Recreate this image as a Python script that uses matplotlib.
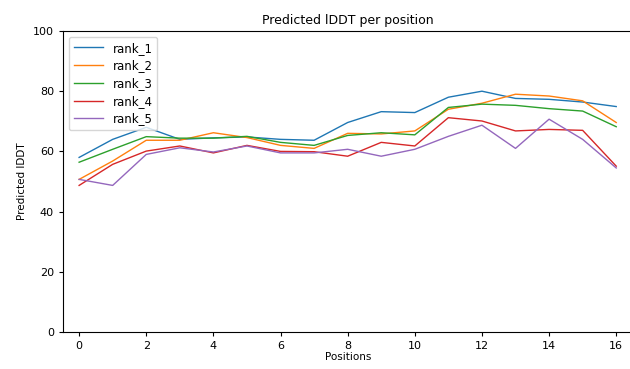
import matplotlib
matplotlib.use("Agg")
import matplotlib.pyplot as plt

positions = list(range(17))
rank_1 = [58, 64, 68, 64, 64.5, 64.8, 64, 63.7, 69.6, 73.2, 72.9, 78, 80, 77.6, 77.3, 76.4, 74.9]
rank_2 = [50.7, 56.8, 63.7, 63.7, 66.2, 64.6, 62, 61, 66, 65.8, 66.8, 74, 76, 79, 78.4, 76.8, 69.6]
rank_3 = [56.4, 60.7, 64.9, 64.4, 64.4, 65, 63, 62, 65.3, 66.2, 65.5, 74.6, 75.7, 75.3, 74.2, 73.4, 68.2]
rank_4 = [48.7, 55.7, 60.1, 61.8, 59.5, 62, 60, 59.9, 58.4, 63, 61.8, 71.2, 70.1, 66.8, 67.3, 67, 55.1]
rank_5 = [50.7, 48.7, 59, 61.2, 59.8, 61.8, 59.5, 59.5, 60.7, 58.4, 60.7, 65, 68.7, 61, 70.7, 64, 54.5]

series = {"rank_1": rank_1, "rank_2": rank_2, "rank_3": rank_3,
          "rank_4": rank_4, "rank_5": rank_5}

fig = plt.figure(figsize=(6.3, 3.69), dpi=100)
# right spine sits just past the edge of the canvas
ax = fig.add_axes([63 / 630, 1 - 332 / 369, 570 / 630, 301 / 369])

for name, vals in series.items():
    ax.plot(positions, vals, label=name, linewidth=1.0)

ax.set_xlim(-0.48, 16.5)
ax.set_ylim(0, 100)
ax.set_xticks(range(0, 17, 2))
ax.set_yticks(range(0, 101, 20))
ax.tick_params(labelsize=8, length=3)
ax.set_title("Predicted lDDT per position", fontsize=9, pad=5)
ax.set_xlabel("Positions", fontsize=7.5, labelpad=1)
ax.set_ylabel("Predicted lDDT", fontsize=7.5)
ax.legend(loc="upper left", fontsize=8.5, handlelength=2.5, labelspacing=0.4)

fig.savefig("out.png", dpi=100)
